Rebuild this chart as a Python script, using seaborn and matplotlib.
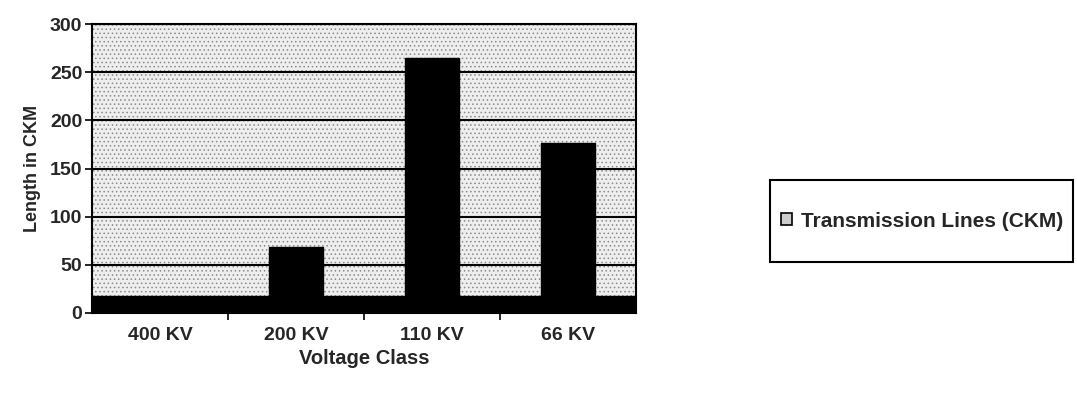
import matplotlib
matplotlib.use("Agg")
import matplotlib.pyplot as plt
import seaborn as sns
import pandas as pd
from matplotlib.patches import Patch, Rectangle

categories = ["400 KV", "200 KV", "110 KV", "66 KV"]
values = [0, 69, 265, 177]
series_name = "Transmission Lines (CKM)"
yticks = [0, 50, 100, 150, 200, 250, 300]

sns.set_theme(style="white")
plt.rcParams['font.family'] = ['Liberation Sans', 'DejaVu Sans']
plt.rcParams['hatch.linewidth'] = 0.6

df = pd.DataFrame({"Voltage Class": categories, "Length": values})

fig = plt.figure(figsize=(10.77, 3.93), dpi=100)
ax = fig.add_axes([0.0854, 0.2036, 0.505, 0.735])
ax.set_facecolor("#eeeeee")
ax.add_patch(Rectangle((0, 0), 1, 1, transform=ax.transAxes, facecolor="none",
                       edgecolor="#8a8a8a", hatch="....", linewidth=0, zorder=0.5))

sns.barplot(data=df, x="Voltage Class", y="Length", color="black",
            width=0.4, saturation=1, ax=ax, zorder=3, edgecolor="black")

ax.set_xlim(-0.5, 3.5)
ax.set_ylim(0, 300)
ax.set_yticks(yticks)
ax.set_yticklabels([str(t) for t in yticks], fontsize=14, fontweight="bold")
ax.yaxis.grid(True, color="black", linewidth=1.5, zorder=1)
ax.set_axisbelow(True)
ax.axhspan(0, 18, color="black", zorder=2)

ax.set_xticks(range(len(categories)))
ax.set_xticklabels(categories, fontsize=14, fontweight="bold")
ax.set_xticks([0.5, 1.5, 2.5], minor=True)
ax.tick_params(axis="x", which="major", length=0, pad=10)
ax.tick_params(axis="x", which="minor", length=5, width=1.2, color="black", bottom=True)
ax.tick_params(axis="y", length=5, width=1.2, color="black", left=True, pad=2)

ax.set_xlabel("Voltage Class", fontsize=14.5, fontweight="bold", labelpad=4)
ax.set_ylabel("Length in CKM", fontsize=13, fontweight="bold", labelpad=6)

for s in ax.spines.values():
    s.set_color("black")
    s.set_linewidth(1.5)

fig.patches.append(Rectangle((0.715, 0.333), 0.281, 0.209, transform=fig.transFigure,
                             facecolor="white", edgecolor="black", linewidth=1.5))
handle = Patch(facecolor="#cccccc", edgecolor="black", linewidth=1.2)
leg = fig.legend([handle], [series_name], loc="center left",
                 bbox_to_anchor=(0.725, 0.4375),
                 frameon=False,
                 prop={"size": 15, "weight": "bold"}, borderpad=0,
                 handlelength=0.55, handleheight=0.55, handletextpad=0.4,
                 borderaxespad=0)

fig.savefig("out.png", dpi=100)
